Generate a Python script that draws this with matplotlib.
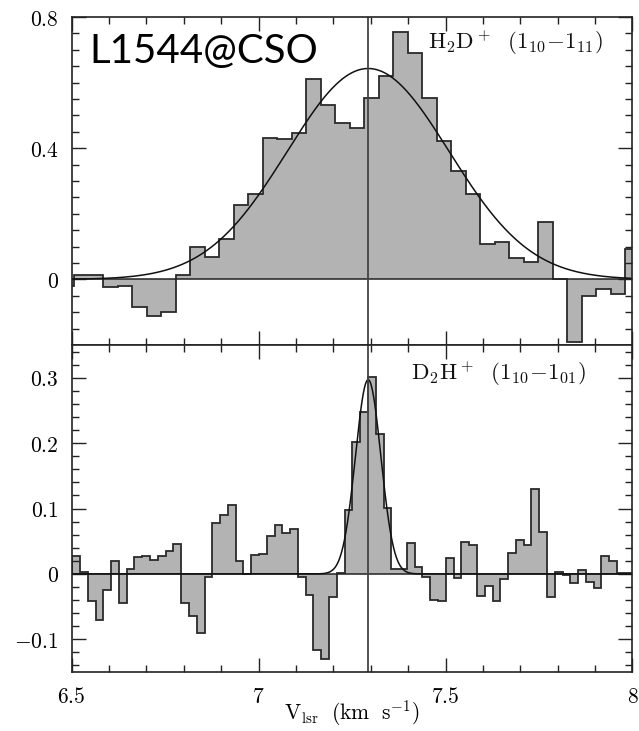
import numpy as np
import matplotlib
matplotlib.use('Agg')
import matplotlib.pyplot as plt
from matplotlib.ticker import FixedLocator, FixedFormatter, MultipleLocator

plt.rcParams['mathtext.fontset'] = 'cm'
plt.rcParams['font.family'] = ['DejaVu Serif']

# ---------------- data ----------------
# H2D+ (1_10-1_11) spectrum: channel grid and brightness per channel
h2d_v_start = 6.46875
h2d_dv = 0.03875
h2d_T = [-0.020, 0.012, 0.014, -0.024, -0.021, -0.085, -0.113, -0.100, 0.012, 0.100,
         0.067, 0.124, 0.228, 0.260, 0.431, 0.428, 0.445, 0.611, 0.531, 0.477,
         0.461, 0.554, 0.619, 0.754, 0.691, 0.554, 0.421, 0.332, 0.260, 0.108,
         0.113, 0.065, 0.053, 0.174, 0.000, -0.192, -0.050, -0.028, -0.045, 0.094]
# Gaussian fit parameters: amplitude, centre, FWHM
h2d_fit = (0.643, 7.293, 0.51)

# D2H+ (1_10-1_01) spectrum
d2h_v_start = 6.5013
d2h_dv = 0.02082
d2h_T = [0.027, 0.003, -0.041, -0.071, -0.025, 0.019, -0.045, 0.008, 0.026, 0.028,
         0.021, 0.027, 0.035, 0.046, -0.045, -0.064, -0.091, -0.005, 0.078, 0.090,
         0.105, 0.019, 0.000, 0.029, 0.030, 0.058, 0.075, 0.063, 0.068, -0.004,
         -0.032, -0.116, -0.130, -0.035, 0.001, 0.098, 0.201, 0.248, 0.301, 0.214,
         0.101, 0.008, 0.008, 0.048, 0.011, -0.005, -0.040, -0.041, 0.024, -0.006,
         0.049, 0.044, -0.034, -0.018, -0.042, -0.008, 0.032, 0.052, 0.044, 0.130,
         0.064, -0.036, 0.003, -0.001, -0.014, 0.006, -0.013, -0.022, 0.028, 0.019,
         0.001, 0.001]
d2h_fit = (0.297, 7.293, 0.080)

v_systemic = 7.293

x_ticks = [6.5, 7.0, 7.5, 8.0]
x_tick_labels = ['6.5', '7', '7.5', '8']
top_y_ticks = [0.0, 0.4, 0.8]
top_y_tick_labels = ['0', '0.4', '0.8']
bot_y_ticks = [-0.1, 0.0, 0.1, 0.2, 0.3]
bot_y_tick_labels = ['-0.1', '0', '0.1', '0.2', '0.3']

title_text = 'L1544@CSO'
top_label = r'$\mathrm{H_2D^+\ \ (1_{10}{-}1_{11})}$'
bot_label = r'$\mathrm{D_2H^+\ \ (1_{10}{-}1_{01})}$'
x_label = r'$\mathrm{V_{lsr}\ \ (km\ \ s^{-1})}$'

# ---------------- figure ----------------
fig = plt.figure(figsize=(6.39, 7.31), dpi=100)
ax1 = fig.add_axes([0.1122, 0.52804, 0.8776, 0.4487])
ax2 = fig.add_axes([0.1122, 0.08071, 0.8776, 0.44733])

fill_c = '#b3b3b3'
edge_c = '#2a2a2a'


def gauss(v, amp, cen, fwhm):
    s = fwhm / (2 * np.sqrt(2 * np.log(2)))
    return amp * np.exp(-0.5 * ((v - cen) / s) ** 2)


def draw(ax, v_start, dv, T, fit):
    T = np.asarray(T)
    edges = v_start + dv * np.arange(len(T) + 1)
    ax.stairs(T, edges, baseline=0, fill=True, color=fill_c, lw=0)
    ax.stairs(T, edges, baseline=0, fill=False, color=edge_c, lw=1.3)
    ax.axhline(0, color='#222222', lw=1.1)
    vv = np.linspace(6.5, 8.0, 1500)
    ax.plot(vv, gauss(vv, *fit), color='#111111', lw=1.1)
    ax.axvline(v_systemic, color='#444444', lw=1.3)
    ax.set_xlim(6.5, 8.0)


draw(ax1, h2d_v_start, h2d_dv, h2d_T, h2d_fit)
draw(ax2, d2h_v_start, d2h_dv, d2h_T, d2h_fit)

ax1.set_ylim(-0.2, 0.8)
ax2.set_ylim(-0.15, 0.35)

for ax in (ax1, ax2):
    ax.xaxis.set_major_locator(FixedLocator(x_ticks))
    ax.xaxis.set_major_formatter(FixedFormatter(['$%s$' % s for s in x_tick_labels]))
    ax.xaxis.set_minor_locator(MultipleLocator(0.1))
    ax.tick_params(which='both', direction='in', top=True, right=True,
                   width=1.0, color='#222222')
    ax.tick_params(which='major', length=10, labelsize=15.5)
    ax.tick_params(which='minor', length=5)
    ax.tick_params(axis='y', which='major', pad=9.5)
    ax.tick_params(axis='x', which='major', pad=10)
    for sp in ax.spines.values():
        sp.set_linewidth(1.2)
        sp.set_color('#222222')

ax1.yaxis.set_major_locator(FixedLocator(top_y_ticks))
ax1.yaxis.set_major_formatter(FixedFormatter(['$%s$' % s for s in top_y_tick_labels]))
ax1.yaxis.set_minor_locator(MultipleLocator(0.05))
ax1.tick_params(axis='x', labelbottom=False)

ax2.yaxis.set_major_locator(FixedLocator(bot_y_ticks))
ax2.yaxis.set_major_formatter(FixedFormatter(['$%s$' % s for s in bot_y_tick_labels]))
ax2.yaxis.set_minor_locator(MultipleLocator(0.02))

ax1.text(0.0308, 0.860, title_text, transform=ax1.transAxes, ha='left', va='baseline',
         fontsize=29, family=['Lato', 'DejaVu Sans'], color='black')
ax1.text(0.947, 0.9015, top_label, transform=ax1.transAxes, ha='right', va='baseline',
         fontsize=16.5, color='#111111')
ax2.text(0.917, 0.893, bot_label, transform=ax2.transAxes, ha='right', va='baseline',
         fontsize=16.5, color='#111111')

ax2.set_xlabel(x_label, fontsize=15.5, labelpad=-7)

fig.savefig('out.png', dpi=100)
